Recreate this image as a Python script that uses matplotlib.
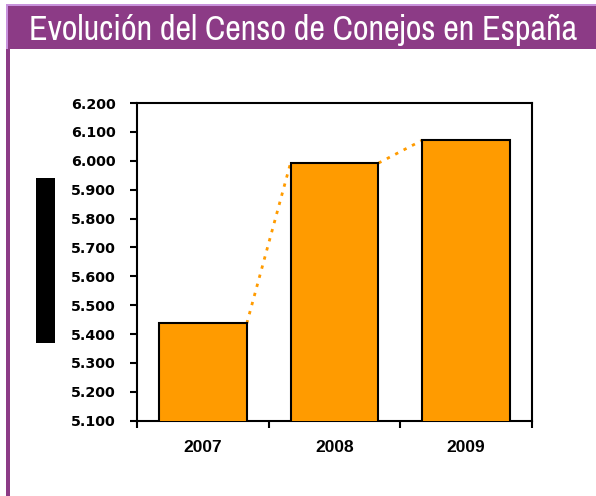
import matplotlib
matplotlib.use("Agg")
import matplotlib.pyplot as plt
from matplotlib.patches import Rectangle
from matplotlib.ticker import FuncFormatter, FixedLocator
from matplotlib import font_manager

years = ["2007", "2008", "2009"]
censo = [5437, 5992, 6071]
y_ticks = [5100, 5200, 5300, 5400, 5500, 5600, 5700, 5800, 5900, 6000, 6100, 6200]
title = "Evolución del Censo de Conejos en España"

W, H = 596, 496
fig = plt.figure(figsize=(W / 100, H / 100), dpi=100)
fig.patch.set_facecolor("white")

def px(x0, y0, x1, y1, **kw):
    r = Rectangle((x0 / W, 1 - y1 / H), (x1 - x0) / W, (y1 - y0) / H,
                  transform=fig.transFigure, **kw)
    fig.patches.append(r)

purple = "#8c3b86"
px(6, 4, W, 49, facecolor=purple, edgecolor="none", linewidth=0)
px(6, 4, W, 6, facecolor="#c892dc", edgecolor="none", linewidth=0)
px(6, 4, 7.5, 49, facecolor="#c892dc", edgecolor="none", linewidth=0)
px(6, 49, 10, H, facecolor=purple, edgecolor="none", linewidth=0)
px(36, 178, 55, 343, facecolor="black", edgecolor="none", linewidth=0)

# pick a condensed family if one exists
title_family = "Liberation Sans"
for f in font_manager.fontManager.ttflist:
    n = f.name.lower()
    if "narrow" in n or "condensed" in n:
        title_family = f.name
        break

t = fig.text(303 / W, 1 - 29.5 / H, title, color="white", ha="center", va="center",
             fontsize=22, family=[title_family, "DejaVu Sans"])
r = fig.canvas.get_renderer()
wpx = t.get_window_extent(renderer=r).width
t.set_fontsize(min(26, 22 * 551 / wpx))

ax = fig.add_axes([137 / W, 75.3 / H, 395 / W, 317.7 / H])
w = 0.668
x = list(range(len(years)))
ax.bar(x, censo, width=w, color="#ff9b00", edgecolor="black", linewidth=1.5, zorder=3)
for i in range(len(years) - 1):
    ax.plot([x[i] + w / 2, x[i + 1] - w / 2], [censo[i], censo[i + 1]],
            color="#ff9b00", linestyle=(0, (1.2, 2.2)), linewidth=2, zorder=2)

ax.set_xlim(-0.5, len(years) - 0.5)
ax.set_ylim(y_ticks[0], y_ticks[-1])
ax.yaxis.set_major_locator(FixedLocator(y_ticks))
ax.yaxis.set_major_formatter(FuncFormatter(lambda v, p: f"{int(v):,}".replace(",", ".")))
ax.set_xticks(x)
ax.set_xticklabels(years)
ax.set_xticks([i - 0.5 for i in range(len(years) + 1)], minor=True)
ax.tick_params(axis="x", which="major", length=0, pad=14)
ax.tick_params(axis="x", which="minor", length=5, width=1.5, direction="out")
ax.tick_params(axis="y", which="major", length=5, width=1.5, direction="out", pad=10)
for lab in ax.get_xticklabels():
    lab.set_fontfamily("Liberation Sans")
    lab.set_fontweight("bold")
    lab.set_fontsize(12.5)
for lab in ax.get_yticklabels():
    lab.set_fontfamily("DejaVu Sans")
    lab.set_fontweight("bold")
    lab.set_fontsize(10.3)
for s in ax.spines.values():
    s.set_linewidth(1.5)
    s.set_color("black")

fig.savefig("out.png", dpi=100)
